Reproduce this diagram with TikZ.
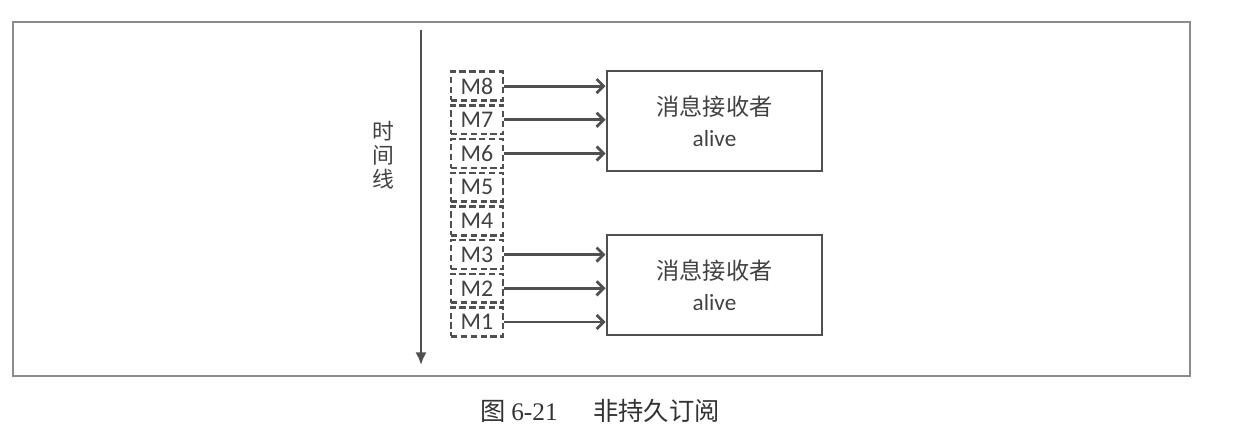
\documentclass[tikz,border=0pt]{standalone}
\usepackage{fontspec}
\setmainfont{Carlito}
\newfontfamily\cjk{Noto Sans CJK SC}
\newfontfamily\capserif{Liberation Serif}
\usetikzlibrary{arrows.meta,positioning}
\definecolor{linegray}{RGB}{80,80,80}
\definecolor{textgray}{RGB}{65,65,65}
\definecolor{framegray}{RGB}{140,140,140}

\begin{document}
\begin{tikzpicture}[x=0.025cm,y=-0.025cm,
	msgbox/.style={draw=linegray,dash pattern=on 4.5pt off 2.5pt,line width=1.8pt,minimum width=1.3cm,minimum height=0.72cm,inner sep=0pt,text=textgray,font=\fontsize{17}{18}\selectfont},
	recvbox/.style={draw=linegray,line width=2pt,minimum width=5.375cm,minimum height=2.5cm,align=center,text=textgray,font=\fontsize{16.5}{22}\selectfont},
	sendarrow/.style={draw=linegray,line width=2pt,-{Straight Barb[length=5pt,width=10pt]}}]
	\useasboundingbox (0,0) rectangle (1233,431);
	\draw[framegray,line width=1pt] (13,22) rectangle (1190,376);
	% time line
	\coordinate (tstart) at (421,30);
	\coordinate (tend) at (421,365);
	\draw[linegray,line width=2pt,-{Latex[length=9pt,width=8pt]}] (tstart) -- (tend);
	\node[align=center,text=textgray,font=\cjk\fontsize{15.5}{17}\selectfont] (tlabel) at (383,155) {时\\间\\线};
	% messages
	\foreach \i in {1,...,8}
		\node[msgbox] (m\i) at (477,{322-(\i-1)*33.7}) {M\i};
	% receivers
	\node[recvbox] (recvtop) at (714.5,121) {{\cjk 消息接收者}\\alive};
	\node[recvbox] (recvbottom) at (714.5,285) {{\cjk 消息接收者}\\alive};
	\foreach \i in {6,7,8}
		\draw[sendarrow] (m\i.east) -- (m\i.east -| recvtop.west);
	\foreach \i in {1,2,3}
		\draw[sendarrow] (m\i.east) -- (m\i.east -| recvbottom.west);
	% caption
	\node[font=\fontsize{18}{21}\selectfont,text=black!80] (caption) at (600,411) {{\cjk 图}~{\capserif 6-21}\hspace{1.4em}{\cjk 非持久订阅}};
\end{tikzpicture}
\end{document}
